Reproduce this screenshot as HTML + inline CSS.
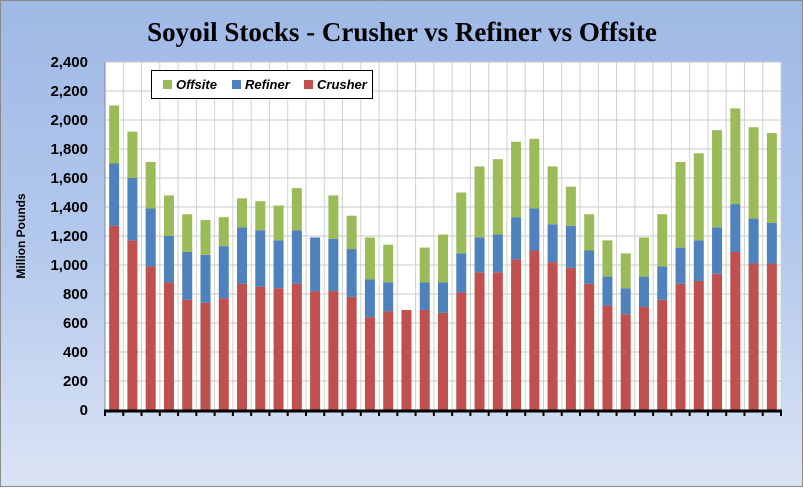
<!DOCTYPE html>
<html><head><meta charset="utf-8"><style>
html,body{margin:0;padding:0}
body{width:803px;height:487px;overflow:hidden;background:#fff}
#chart{position:absolute;left:0;top:0;width:801px;height:485px;border:1px solid #8a8a8a;background:linear-gradient(180deg,#9fb9e6 0%,#b3c8ec 50%,#dbe4f5 100%)}
svg text{font-family:"Liberation Sans",sans-serif}
</style></head><body>
<div id="chart">
<svg width="803" height="487" id="svg">
<text x="401" y="40" text-anchor="middle" style="font-family:'Liberation Serif',serif" font-weight="bold" font-size="27" fill="#000">Soyoil Stocks - Crusher vs Refiner vs Offsite</text>
<text transform="translate(24,235) rotate(-90)" text-anchor="middle" font-weight="bold" font-size="12" fill="#000">Million Pounds</text>
<g id="plot"></g>
<g>
<rect x="150.5" y="69.5" width="221" height="28" fill="#fff" stroke="#000" stroke-width="1"/>
<rect x="162" y="79" width="9" height="9" fill="#9bbb59"/>
<text x="175" y="88" font-weight="bold" font-style="italic" font-size="13">Offsite</text>
<rect x="231" y="79" width="9" height="9" fill="#4f81bd"/>
<text x="244" y="88" font-weight="bold" font-style="italic" font-size="13">Refiner</text>
<rect x="303" y="79" width="9" height="9" fill="#c0504d"/>
<text x="316" y="88" font-weight="bold" font-style="italic" font-size="13">Crusher</text>
</g>
</svg></div>
<script>
const crusher=[1270,1170,990,880,760,740,770,870,850,840,870,820,820,780,640,680,690,690,670,810,950,950,1040,1100,1020,980,870,720,660,710,760,870,890,940,1090,1010,1010];
const refiner=[430,430,400,320,330,330,360,390,390,330,370,370,360,330,260,200,0,190,210,270,240,260,290,290,260,290,230,200,180,210,230,250,280,320,330,310,280];
const offsite=[400,320,320,280,260,240,200,200,200,240,290,0,300,230,290,260,0,240,330,420,490,520,520,480,400,270,250,250,240,270,360,590,600,670,660,630,620];
const yTicks=[0,200,400,600,800,1000,1200,1400,1600,1800,2000,2200,2400];
const tickLabels=["0","200","400","600","800","1,000","1,200","1,400","1,600","1,800","2,000","2,200","2,400"];
const NS="http://www.w3.org/2000/svg";
const X0=104,X1=780,Y0=409,Y1=61,YMAX=2400;
const n=crusher.length,step=(X1-X0)/n,bw=10;
const y=v=>Y0-(v/YMAX)*(Y0-Y1);
const xc=i=>X0+step*(i+0.5);
const g=document.getElementById('plot');
function mk(t,a){const e=document.createElementNS(NS,t);for(const k in a)e.setAttribute(k,a[k]);g.appendChild(e);return e;}
const bg=mk('rect',{x:X0,y:Y1,width:X1-X0,height:Y0-Y1,fill:'#fff'});


for(let i=0;i<=n;i++){const gx=X0+step*i;const l=mk('line',{x1:gx,x2:gx,y1:Y1,y2:Y0,stroke:'#d0d0d0','stroke-width':1});

}
yTicks.forEach((v,i)=>{const l=mk('line',{x1:X0,x2:X1,y1:y(v),y2:y(v),stroke:'#c8c8c8','stroke-width':1});


const t=mk('text',{x:87,y:y(v)+5,'text-anchor':'end','font-size':15,'font-weight':'bold',fill:'#000'});t.textContent=tickLabels[i];

});
const ax=mk('line',{x1:X0,x2:X0,y1:Y1,y2:Y0,stroke:'#888','stroke-width':1});


for(let i=0;i<n;i++){
 const c=crusher[i],r=refiner[i],o=offsite[i];
 const segs=[[0,c,'#c0504d','bar-crusher'],[c,c+r,'#4f81bd','bar-refiner'],[c+r,c+r+o,'#9bbb59','bar-offsite']];
 segs.forEach(s=>{if(s[1]<=s[0])return;const b=mk('rect',{x:xc(i)-bw/2,y:y(s[1]),width:bw,height:y(s[0])-y(s[1]),fill:s[2]});
 
 });
}
const xa=mk('line',{x1:X0-1,x2:X1+1,y1:Y0+1,y2:Y0+1,stroke:'#000','stroke-width':3});


for(let i=0;i<=n;i++){const tx=X0+step*i;const t=mk('line',{x1:tx,x2:tx,y1:Y0,y2:Y0+6,stroke:'#000','stroke-width':2});

}
</script>
</body></html>
